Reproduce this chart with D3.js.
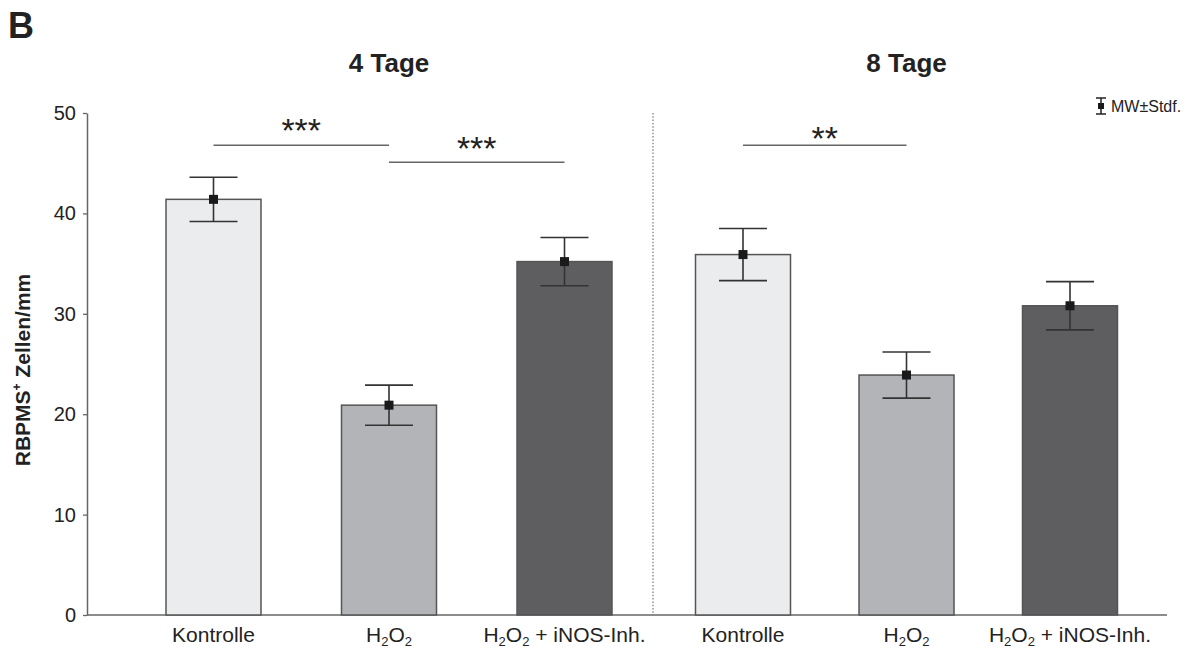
<!DOCTYPE html>
<html>
<head>
<meta charset="utf-8">
<script src="https://cdn.jsdelivr.net/npm/d3@7"></script>
<style>
  body { margin: 0; background: #fff; }
  text { font-family: "Liberation Sans", Arial, sans-serif; fill: #222; }
</style>
</head>
<body>
<div id="chart"></div>
<script>
// values
var groups = ["4 Tage", "8 Tage"];
var categories = ["Kontrolle", "H2O2", "H2O2 + iNOS-Inh."];
var means4 = [41.4, 20.9, 35.2];
var sd4 = [2.2, 2.0, 2.4];
var means8 = [35.9, 23.9, 30.8];
var sd8 = [2.6, 2.3, 2.4];
var yTicks = [0, 10, 20, 30, 40, 50];
// significance brackets: group, from, to, line level, label level
var sigGroup = [0, 0, 1];
var sigFrom = [0, 1, 0];
var sigTo = [1, 2, 1];
var sigLevel = [46.8, 45.1, 46.8];
var sigTextLevel = [49.0, 47.2, 48.2];
var sigLabel = ["***", "***", "**"];

var width = 1195, height = 649;
var fills = ["#ebecee", "#b3b4b8", "#5e5e60"];

var svg = d3.select("#chart").append("svg")
    .attr("width", width)
    .attr("height", height);

var y = d3.scaleLinear().domain([0, 50]).range([615, 113]);

// the two panels are not spaced the same
var xs = [
    d3.scalePoint().domain(categories).range([213.5, 564.5]),
    d3.scalePoint().domain(categories).range([743, 1070])
];
var barW = 95;

var data = [];
categories.forEach(function (c, i) {
    data.push({ g: 0, cat: c, i: i, mean: means4[i], sd: sd4[i] });
});
categories.forEach(function (c, i) {
    data.push({ g: 1, cat: c, i: i, mean: means8[i], sd: sd8[i] });
});

function cx(d) { return xs[d.g](d.cat); }

// panel letter
svg.append("text")
    .attr("x", 8).attr("y", 38)
    .attr("font-size", 36).attr("font-weight", "bold")
    .text("B");

// group titles
svg.selectAll("text.title")
    .data(groups)
    .enter().append("text")
    .attr("class", "title")
    .attr("x", function (d, i) { return xs[i]("H2O2"); })
    .attr("y", 72)
    .attr("text-anchor", "middle")
    .attr("font-size", 26).attr("font-weight", "bold")
    .text(String);

// y axis
var yAxis = svg.append("g")
    .attr("transform", "translate(87,0)")
    .call(d3.axisLeft(y).tickValues(yTicks).tickSize(4).tickSizeOuter(0).tickPadding(7));
yAxis.select(".domain").attr("stroke", "#666").attr("stroke-width", 1.5);
yAxis.selectAll(".tick line").attr("stroke", "#666").attr("stroke-width", 1.3);
yAxis.selectAll(".tick text")
    .attr("font-size", 20)
    .attr("font-family", "Liberation Sans, Arial, sans-serif")
    .attr("fill", "#222");

// y label
var yl = svg.append("text")
    .attr("transform", "translate(30,370) rotate(-90)")
    .attr("text-anchor", "middle")
    .attr("font-size", 21).attr("font-weight", "bold");
yl.append("tspan").text("RBPMS");
yl.append("tspan").attr("font-size", 12).attr("dy", -9).text("+");
yl.append("tspan").attr("dy", 9).text(" Zellen/mm");

// x axis line
svg.append("line")
    .attr("x1", 87).attr("x2", 1167)
    .attr("y1", y(0)).attr("y2", y(0))
    .attr("stroke", "#666").attr("stroke-width", 1.5);

// divider between panels
svg.append("line")
    .attr("x1", 653).attr("x2", 653)
    .attr("y1", y(50)).attr("y2", y(0))
    .attr("stroke", "#777").attr("stroke-width", 1.2)
    .attr("stroke-dasharray", "1.5,1.8");

// bars
svg.selectAll("rect.bar")
    .data(data)
    .enter().append("rect")
    .attr("class", "bar")
    .attr("x", function (d) { return cx(d) - barW / 2; })
    .attr("y", function (d) { return y(d.mean); })
    .attr("width", barW)
    .attr("height", function (d) { return y(0) - y(d.mean); })
    .attr("fill", function (d) { return fills[d.i]; })
    .attr("stroke", "#555")
    .attr("stroke-width", 1.5);

// error bars
var capW = 48;
var eb = svg.selectAll("g.err")
    .data(data)
    .enter().append("g")
    .attr("class", "err")
    .attr("stroke", "#333")
    .attr("stroke-width", 1.6);
eb.append("line")
    .attr("x1", cx).attr("x2", cx)
    .attr("y1", function (d) { return y(d.mean + d.sd); })
    .attr("y2", function (d) { return y(d.mean - d.sd); });
eb.append("line")
    .attr("x1", function (d) { return cx(d) - capW / 2; })
    .attr("x2", function (d) { return cx(d) + capW / 2; })
    .attr("y1", function (d) { return y(d.mean + d.sd); })
    .attr("y2", function (d) { return y(d.mean + d.sd); });
eb.append("line")
    .attr("x1", function (d) { return cx(d) - capW / 2; })
    .attr("x2", function (d) { return cx(d) + capW / 2; })
    .attr("y1", function (d) { return y(d.mean - d.sd); })
    .attr("y2", function (d) { return y(d.mean - d.sd); });

svg.selectAll("rect.mw")
    .data(data)
    .enter().append("rect")
    .attr("class", "mw")
    .attr("x", function (d) { return cx(d) - 4.5; })
    .attr("y", function (d) { return y(d.mean) - 4.5; })
    .attr("width", 9).attr("height", 9)
    .attr("fill", "#1a1a1a");

// x labels
data.forEach(function (d) {
    var t = svg.append("text")
        .attr("x", cx(d))
        .attr("y", 642)
        .attr("text-anchor", "middle")
        .attr("font-size", 21);
    if (d.i === 0) {
        t.text(d.cat);
    } else {
        t.append("tspan").text("H");
        t.append("tspan").attr("font-size", 13).attr("dy", 4).text("2");
        t.append("tspan").attr("dy", -4).text("O");
        t.append("tspan").attr("font-size", 13).attr("dy", 4).text("2");
        if (d.i === 2) t.append("tspan").attr("dy", -4).text(" + iNOS-Inh.");
    }
});

// significance
sigLabel.forEach(function (lab, k) {
    var xx = xs[sigGroup[k]];
    var x1 = xx(categories[sigFrom[k]]), x2 = xx(categories[sigTo[k]]);
    svg.append("line")
        .attr("x1", x1).attr("x2", x2)
        .attr("y1", y(sigLevel[k])).attr("y2", y(sigLevel[k]))
        .attr("stroke", "#666").attr("stroke-width", 1.5);
    svg.append("text")
        .attr("x", (x1 + x2) / 2)
        .attr("y", y(sigTextLevel[k]) + 19)
        .attr("text-anchor", "middle")
        .attr("font-size", 34)
        .attr("fill", "#333")
        .text(lab);
});

// legend
var lg = svg.append("g").attr("stroke", "#222").attr("stroke-width", 1.5);
lg.append("line").attr("x1", 1101).attr("x2", 1101).attr("y1", 98).attr("y2", 114);
lg.append("line").attr("x1", 1096).attr("x2", 1106).attr("y1", 98).attr("y2", 98);
lg.append("line").attr("x1", 1096).attr("x2", 1106).attr("y1", 114).attr("y2", 114);
svg.append("rect").attr("x", 1098).attr("y", 103).attr("width", 6).attr("height", 6).attr("fill", "#1a1a1a");
svg.append("text")
    .attr("x", 1111).attr("y", 112)
    .attr("font-size", 16)
    .text("MW\u00b1Stdf.");
</script>
</body>
</html>
